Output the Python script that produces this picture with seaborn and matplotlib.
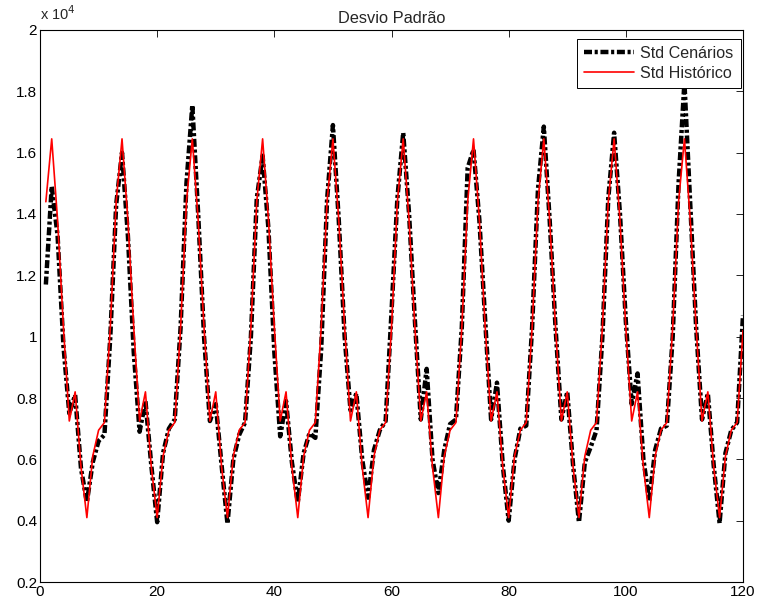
import numpy as np
import pandas as pd
import matplotlib
matplotlib.use("Agg")
import matplotlib.pyplot as plt
import seaborn as sns

# ---- data ----
months = list(range(1, 121))

std_cenarios = [
    11700, 14900, 13300, 9700, 7500, 8100, 5700, 4600, 5900, 6600, 6800, 10000,
    14300, 16000, 13300, 9500, 6900, 7900, 5800, 3950, 6200, 7000, 7300, 10300,
    15000, 17550, 14000, 10000, 7250, 7800, 5800, 3900, 6000, 6800, 7200, 10000,
    14500, 15900, 13500, 9500, 6750, 7900, 5900, 4600, 6200, 6850, 6700, 9600,
    14450, 16900, 13800, 10000, 7600, 8150, 6000, 4750, 6300, 6950, 7250, 10800,
    14500, 16650, 14000, 10500, 7300, 8950, 6000, 4900, 6300, 7150, 7300, 10300,
    15500, 16100, 13800, 10500, 7300, 8500, 5800, 4000, 6000, 7000, 7100, 10300,
    14800, 16850, 13800, 10300, 7300, 8200, 5800, 3950, 5900, 6400, 6950, 10000,
    14500, 16650, 14000, 10500, 7800, 8800, 6000, 4650, 6300, 7000, 7100, 10000,
    15000, 18300, 14300, 10300, 7300, 8150, 5800, 3920, 6200, 6950, 7200, 10700,
]

std_historico = [
    14400, 16450, 13800, 10300, 7250, 8200, 5750, 4100, 6100, 6950, 7200, 10300,
    14400, 16450, 13800, 10300, 7250, 8200, 5750, 4100, 6100, 6950, 7200, 10300,
    14400, 16450, 13800, 10300, 7250, 8200, 5750, 4100, 6100, 6950, 7200, 10300,
    14400, 16450, 13800, 10300, 7250, 8200, 5750, 4100, 6100, 6950, 7200, 10300,
    14400, 16450, 13800, 10300, 7250, 8200, 5750, 4100, 6100, 6950, 7200, 10300,
    14400, 16450, 13800, 10300, 7250, 8200, 5750, 4100, 6100, 6950, 7200, 10300,
    14400, 16450, 13800, 10300, 7250, 8200, 5750, 4100, 6100, 6950, 7200, 10300,
    14400, 16450, 13800, 10300, 7250, 8200, 5750, 4100, 6100, 6950, 7200, 10300,
    14400, 16450, 13800, 10300, 7250, 8200, 5750, 4100, 6100, 6950, 7200, 10300,
    14400, 16450, 13800, 10300, 7250, 8200, 5750, 4100, 6100, 6950, 7200, 10200,
]

x_ticks = [0, 20, 40, 60, 80, 100, 120]
y_ticks = [2000, 4000, 6000, 8000, 10000, 12000, 14000, 16000, 18000, 20000]
y_tick_labels = ["0.2", "0.4", "0.6", "0.8", "1", "1.2", "1.4", "1.6", "1.8", "2"]

df = pd.DataFrame({"mes": months, "cen": std_cenarios, "hist": std_historico})

# ---- style ----
sns.set_style("white")
plt.rcParams["font.family"] = ["Liberation Sans", "DejaVu Sans"]

fig = plt.figure(figsize=(7.59, 6.12), dpi=100)
ax = fig.add_axes([40 / 759, 1 - 582 / 612, 703 / 759, 552 / 612])

sns.lineplot(data=df, x="mes", y="cen", ax=ax, color="black", linewidth=3.2,
             label="Std Cenários")
ax.lines[-1].set_dashes([1.8, 0.6, 0.7, 0.6])
sns.lineplot(data=df, x="mes", y="hist", ax=ax, color="red", linewidth=1.2,
             label="Std Histórico")

ax.set_xlim(0, 120)
ax.set_ylim(2000, 20000)
ax.set_xticks(x_ticks)
ax.set_xticklabels([str(t) for t in x_ticks])
ax.set_yticks(y_ticks)
ax.set_yticklabels(y_tick_labels)
ax.set_xlabel("")
ax.set_ylabel("")
ax.set_title("Desvio Padrão", fontsize=11.8, pad=5)

for s in ax.spines.values():
    s.set_visible(True)
    s.set_color("black")
    s.set_linewidth(0.8)
ax.tick_params(direction="in", top=True, right=True, length=5, width=0.6,
               labelsize=11, colors="black", pad=2)

ax.text(0.0, 1.012, "x 10$^4$", transform=ax.transAxes, fontsize=10.5,
        ha="left", va="bottom")

leg = ax.legend(loc="upper right", bbox_to_anchor=(0.997, 0.984),
                fontsize=11.6, frameon=True, fancybox=False,
                edgecolor="black", framealpha=1, borderaxespad=0,
                handlelength=3.1, handletextpad=0.4, borderpad=0.45,
                labelspacing=0.3)
leg.get_frame().set_linewidth(0.7)

fig.savefig("out.png", dpi=100, facecolor="white")
